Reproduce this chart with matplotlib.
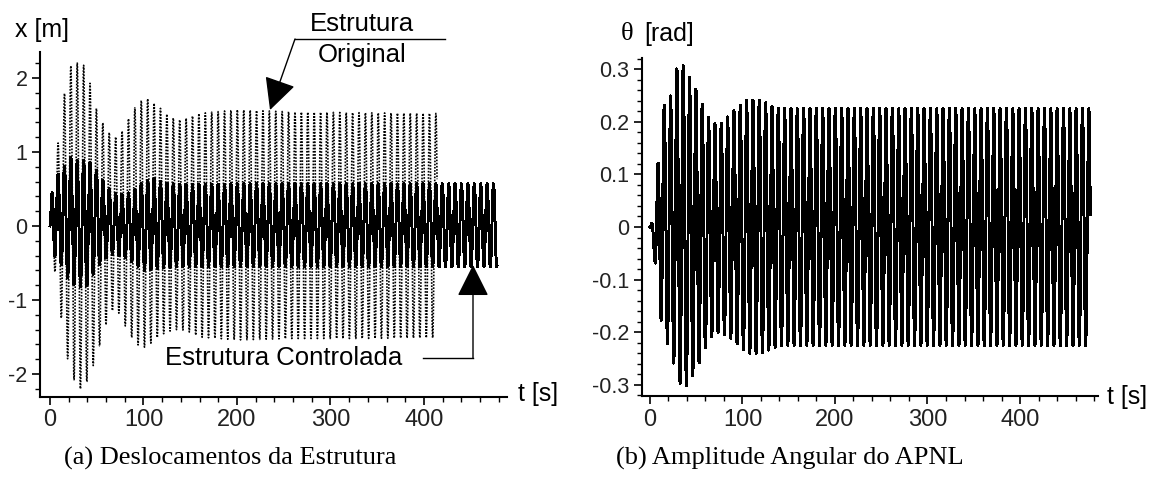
import numpy as np
import matplotlib
matplotlib.use("Agg")
import matplotlib.pyplot as plt
from matplotlib import font_manager
from matplotlib.ticker import MultipleLocator, FuncFormatter

# ---- data ----------------------------------------------------------------
# envelopes (upper / lower limit of the oscillation) at a few instants
t_orig = [0, 5, 11, 16, 23, 30, 36, 43, 50, 57, 64, 70, 77, 84, 91, 98,
          105, 112, 119, 126, 133, 140, 147, 160, 200, 260, 330, 414]
orig_up = [0, 0.85, 1.3, 1.85, 2.2, 2.2, 2.17, 1.92, 1.57, 1.38, 1.25, 1.2,
           1.28, 1.45, 1.6, 1.7, 1.72, 1.65, 1.58, 1.5, 1.45, 1.43, 1.46,
           1.52, 1.57, 1.54, 1.53, 1.52]
orig_lo = [0, -0.6, -1.14, -1.65, -2.0, -2.2, -2.2, -2.0, -1.75, -1.45,
           -1.18, -1.1, -1.25, -1.45, -1.57, -1.65, -1.62, -1.53, -1.47,
           -1.43, -1.4, -1.4, -1.42, -1.5, -1.54, -1.52, -1.52, -1.51]

t_ctrl = [0, 3, 11, 18, 23, 30, 39, 46, 54, 61, 68, 79, 90, 100, 111, 122,
          140, 200, 300, 478]
ctrl_up = [0, 0.66, 0.72, 0.85, 0.94, 0.87, 0.9, 0.83, 0.67, 0.53, 0.45,
           0.42, 0.48, 0.6, 0.64, 0.58, 0.56, 0.57, 0.57, 0.57]
ctrl_lo = [0, -0.37, -0.5, -0.68, -0.77, -0.82, -0.82, -0.66, -0.5, -0.42,
           -0.38, -0.42, -0.5, -0.6, -0.58, -0.56, -0.55, -0.55, -0.55, -0.55]

t_theta = [0, 5, 9, 14, 22, 29, 35, 41, 49, 55, 62, 70, 77, 90, 105, 121,
           133, 141, 200, 476]
theta_up = [0, 0.02, 0.13, 0.228, 0.247, 0.30, 0.31, 0.29, 0.265, 0.24,
            0.21, 0.197, 0.197, 0.22, 0.242, 0.24, 0.228, 0.225, 0.225, 0.225]
theta_lo = [0, -0.06, -0.15, -0.195, -0.24, -0.275, -0.313, -0.298, -0.275,
            -0.25, -0.22, -0.2, -0.2, -0.215, -0.24, -0.24, -0.23, -0.225,
            -0.225, -0.225]

period = 6.85          # s, counted from the peaks
x_ticks = [0, 100, 200, 300, 400]
y_ticks_left = [-2, -1, 0, 1, 2]
y_ticks_right = [-0.3, -0.2, -0.1, 0, 0.1, 0.2, 0.3]
captions = ["(a) Deslocamentos da Estrutura", "(b) Amplitude Angular do APNL"]


def signal(t_env, up, lo):
    t = np.arange(0, t_env[-1], 0.04)
    hi = np.interp(t, t_env, up)
    lw = np.interp(t, t_env, lo)
    return t, (hi + lw) / 2 + (hi - lw) / 2 * np.sin(2 * np.pi * t / period)


plt.rcParams["axes.unicode_minus"] = False
names = {f.name for f in font_manager.fontManager.ttflist}
SANS = "Liberation Sans"
NARROW = "Liberation Sans Narrow" if "Liberation Sans Narrow" in names else SANS
SERIF = "Liberation Serif"

W, H = 1157, 497
fig = plt.figure(figsize=(W / 100, H / 100), dpi=100)


def fp(x, y):
    return (x / W, 1 - y / H)


axL = fig.add_axes([40 / W, 1 - 397 / H, 467 / W, 345 / H])
axR = fig.add_axes([642 / W, 1 - 396 / H, 456 / W, 338 / H])

t, x = signal(t_ctrl, ctrl_up, ctrl_lo)
axL.plot(t, x, color="black", lw=1.4, antialiased=False, zorder=2)
t, x = signal(t_orig, orig_up, orig_lo)
axL.plot(t, x, color="black", lw=1.2, ls=(0, (1, 0.9)), zorder=3)
t, th = signal(t_theta, theta_up, theta_lo)
axR.plot(t, th, color="black", lw=1.4, antialiased=False)

axL.set_xlim(-10.7, 488.8)
axL.set_ylim(-2.31, 2.35)
axR.set_xlim(-8.6, 484.3)
axR.set_ylim(-0.321, 0.321)

fmt = FuncFormatter(lambda v, p: f"{v:g}")
for ax in (axL, axR):
    for s in ("top", "right"):
        ax.spines[s].set_visible(False)
    for s in ("left", "bottom"):
        ax.spines[s].set_linewidth(1.5)
    ax.set_xticks(x_ticks)
    ax.xaxis.set_minor_locator(MultipleLocator(20))
    ax.tick_params(which="major", direction="out", length=6, width=1.2)
    ax.tick_params(which="minor", direction="out", length=3.5, width=1.0)
    ax.tick_params(axis="x", pad=3)
    ax.tick_params(axis="y", pad=3)

axL.set_yticks(y_ticks_left)
axL.yaxis.set_minor_locator(MultipleLocator(0.2))
axR.set_yticks(y_ticks_right)
axR.yaxis.set_minor_locator(MultipleLocator(0.02))
for ax in (axL, axR):
    ax.yaxis.set_major_formatter(fmt)
    for lab in ax.get_xticklabels():
        lab.set_fontfamily(NARROW)
        lab.set_fontsize(17)
        lab.set_color("#222222")
    for lab in ax.get_yticklabels():
        lab.set_fontfamily(SANS)
        lab.set_fontsize(15.5)
        lab.set_color("#222222")

# axis names
fig.text(*fp(15, 30), "x [m]", family=SANS, fontsize=18, va="center", ha="left")
fig.text(*fp(518, 394), "t [s]", family=SANS, fontsize=18, va="center", ha="left")
fig.text(*fp(1107, 397), "t [s]", family=SANS, fontsize=18, va="center", ha="left")
fig.text(*fp(621, 34), "θ", family=SERIF, fontsize=19, va="center", ha="left")
fig.text(*fp(644, 34), "[rad]", family=SANS, fontsize=18, va="center", ha="left")

# annotation: original structure
fig.text(*fp(362, 24), "Estrutura", family=SANS, fontsize=18.5, ha="center", va="center")
fig.text(*fp(362, 55), "Original", family=SANS, fontsize=18.5, ha="center", va="center")
fig.add_artist(plt.Line2D([295 / W, 445 / W], [1 - 39 / H, 1 - 39 / H], color="black", lw=1.0))
axL.annotate("", xy=fp(270, 110), xycoords="figure fraction",
             xytext=fp(295, 39), textcoords="figure fraction",
             arrowprops=dict(arrowstyle="-|>,head_length=1.0,head_width=0.5",
                             color="black", lw=1.0, mutation_scale=20,
                             shrinkA=0, shrinkB=0))

# annotation: controlled structure
fig.text(*fp(165, 358), "Estrutura Controlada", family=SANS, fontsize=18.5,
         ha="left", va="center")
fig.add_artist(plt.Line2D([423 / W, 473 / W], [1 - 358 / H, 1 - 358 / H], color="black", lw=1.0))
axL.annotate("", xy=fp(473, 265), xycoords="figure fraction",
             xytext=fp(473, 358), textcoords="figure fraction",
             arrowprops=dict(arrowstyle="-|>,head_length=1.0,head_width=0.5",
                             color="black", lw=1.0, mutation_scale=20,
                             shrinkA=0, shrinkB=0))

# captions
fig.text(*fp(230, 458), captions[0], family=SERIF, fontsize=19, ha="center", va="center")
fig.text(*fp(790, 458), captions[1], family=SERIF, fontsize=19, ha="center", va="center")

fig.savefig("out.png", dpi=100)
